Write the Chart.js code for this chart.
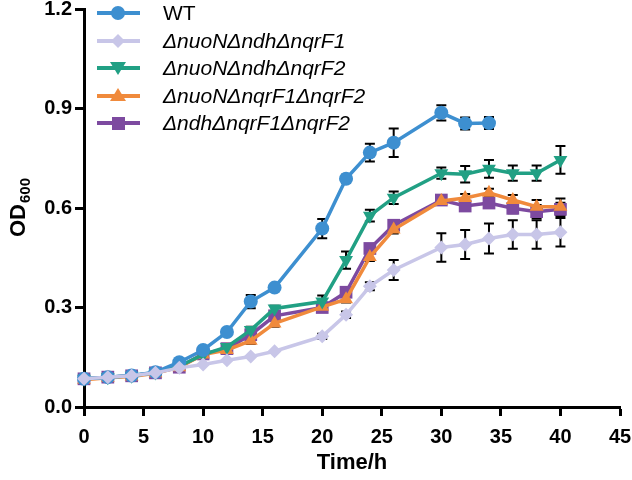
<!DOCTYPE html>
<html>
<head>
<meta charset="utf-8">
<script src="https://cdn.jsdelivr.net/npm/chart.js@4.4.1/dist/chart.umd.min.js"></script>
<style>
  html, body { margin: 0; padding: 0; background: #fff; }
  #wrap { position: relative; width: 632px; height: 480px; }
  #legend { position: absolute; left: 96px; top: 0; font-family: "Liberation Sans", Arial, sans-serif; font-size: 21px; color: #000; }
  .row { position: absolute; left: 0; height: 28px; white-space: nowrap; }
  .row svg { position: absolute; left: 0; top: 0; }
  .row span { position: absolute; left: 67px; top: 2px; }
</style>
</head>
<body>
<div id="wrap">
  <canvas id="growth" width="632" height="480"></canvas>
  <div id="legend"></div>
</div>
<script>
// 시간 (h)
const time = [0, 2, 4, 6, 8, 10, 12, 14, 16, 20, 22, 24, 26, 30, 32, 34, 36, 38, 40];
const xTicks = [0, 5, 10, 15, 20, 25, 30, 35, 40, 45];
const yTicks = [0, 0.3, 0.6, 0.9, 1.2];

// 균주 이름
const strainNames = ['WT', 'ΔnuoNΔndhΔnqrF1', 'ΔnuoNΔndhΔnqrF2', 'ΔnuoNΔnqrF1ΔnqrF2', 'ΔndhΔnqrF1ΔnqrF2'];

// OD600 평균값
const wtOD     = [0.085, 0.09, 0.095, 0.105, 0.135, 0.172, 0.226, 0.318, 0.36, 0.538, 0.688, 0.767, 0.797, 0.887, 0.855, 0.856, null, null, null];
const f1OD     = [0.085, 0.09, 0.094, 0.103, 0.118, 0.128, 0.141, 0.152, 0.168, 0.213, 0.278, 0.364, 0.413, 0.481, 0.49, 0.508, 0.52, 0.52, 0.527];
const f2OD     = [0.085, 0.09, 0.094, 0.104, 0.123, 0.158, 0.181, 0.232, 0.297, 0.318, 0.443, 0.577, 0.631, 0.705, 0.702, 0.718, 0.705, 0.705, 0.745];
const nuoOD    = [0.082, 0.088, 0.092, 0.102, 0.12, 0.158, 0.172, 0.2, 0.252, 0.302, 0.325, 0.452, 0.535, 0.621, 0.63, 0.646, 0.624, 0.604, 0.604];
const ndhOD    = [0.085, 0.09, 0.094, 0.103, 0.12, 0.16, 0.176, 0.218, 0.275, 0.3, 0.346, 0.478, 0.548, 0.624, 0.606, 0.615, 0.599, 0.589, 0.596];

// 표준편차 (error bar)
const wtErr    = [0, 0, 0, 0, 0.005, 0.006, 0.008, 0.02, 0.008, 0.029, 0.012, 0.027, 0.043, 0.023, 0.018, 0.018, 0, 0, 0];
const f1Err    = [0, 0, 0, 0, 0, 0, 0, 0, 0, 0.008, 0.01, 0.012, 0.03, 0.043, 0.044, 0.045, 0.043, 0.043, 0.043];
const f2Err    = [0, 0, 0, 0, 0, 0.005, 0.006, 0.01, 0.008, 0.018, 0.026, 0.018, 0.019, 0.017, 0.025, 0.027, 0.023, 0.023, 0.042];
const nuoErr   = [0, 0, 0, 0, 0, 0.005, 0.006, 0.01, 0.01, 0.01, 0.01, 0.012, 0.012, 0.01, 0.012, 0.012, 0.015, 0.02, 0.025];
const ndhErr   = [0, 0, 0, 0, 0, 0.005, 0.006, 0.01, 0.01, 0.012, 0.012, 0.012, 0.012, 0.01, 0.012, 0.012, 0.015, 0.02, 0.02];

const colors = ['#3d8fd0', '#c8c6e8', '#21a084', '#f08a3c', '#7d4aa0'];
const styles = ['circle', 'rectRot', 'triangle', 'triangle', 'rect'];
const rotations = [0, 0, 180, 0, 0];
const radii = [7, 7, 8, 8, 9];
const drawOrder = [1, 0, 2, 3, 4]; // 연보라가 맨 위

const seriesOD = [wtOD, f1OD, f2OD, nuoOD, ndhOD];
const seriesErr = [wtErr, f1Err, f2Err, nuoErr, ndhErr];

const FONT = '"Liberation Sans", Arial, sans-serif';

const datasets = strainNames.map(function(name, i) {
    return {
        label: name,
        data: time.map(function(t, k) { return { x: t, y: seriesOD[i][k] }; }),
        err: seriesErr[i],
        borderColor: colors[i],
        backgroundColor: colors[i],
        borderWidth: 3.5,
        pointStyle: styles[i],
        pointRotation: rotations[i],
        pointRadius: radii[i],
        pointBorderWidth: 0,
        tension: 0,
        order: drawOrder[i],
        clip: 12
    };
});

// error bar 그리기
const errorBars = {
    id: 'errorBars',
    beforeDatasetsDraw(chart) {
        const ctx = chart.ctx;
        const xs = chart.scales.x, ys = chart.scales.y;
        ctx.save();
        ctx.strokeStyle = '#000';
        ctx.lineWidth = 2;
        chart.data.datasets.forEach(function(ds) {
            ds.data.forEach(function(p, k) {
                const e = ds.err[k];
                if (p.y == null || !e) return;
                const px = xs.getPixelForValue(p.x);
                const top = ys.getPixelForValue(p.y + e);
                const bot = ys.getPixelForValue(p.y - e);
                ctx.beginPath();
                ctx.moveTo(px, top); ctx.lineTo(px, bot);
                ctx.moveTo(px - 5, top); ctx.lineTo(px + 5, top);
                ctx.moveTo(px - 5, bot); ctx.lineTo(px + 5, bot);
                ctx.stroke();
            });
        });
        ctx.restore();
    }
};

// y축 제목 OD600 (아래첨자)
const yTitle = {
    id: 'yTitle',
    afterDraw(chart) {
        const ctx = chart.ctx;
        const cy = (chart.chartArea.top + chart.chartArea.bottom) / 2;
        ctx.save();
        ctx.translate(25, cy);
        ctx.rotate(-Math.PI / 2);
        ctx.fillStyle = '#000';
        ctx.textBaseline = 'alphabetic';
        ctx.font = 'bold 22px ' + FONT;
        const w1 = ctx.measureText('OD').width;
        ctx.font = 'bold 15px ' + FONT;
        const w2 = ctx.measureText('600').width;
        const x0 = -(w1 + w2) / 2;
        ctx.font = 'bold 22px ' + FONT;
        ctx.fillText('OD', x0, 0);
        ctx.font = 'bold 15px ' + FONT;
        ctx.fillText('600', x0 + w1 + 1, 5);
        ctx.restore();
    }
};

const growthChart = new Chart(document.getElementById('growth'), {
    type: 'line',
    data: { datasets: datasets },
    options: {
        responsive: false,
        animation: false,
        devicePixelRatio: 1,
        layout: { padding: { top: 8, right: 12, left: 0, bottom: 0 } },
        plugins: { legend: { display: false }, tooltip: { enabled: false } },
        scales: {
            x: {
                type: 'linear',
                min: 0, max: 45,
                afterBuildTicks: function(s) { s.ticks = xTicks.map(function(v) { return { value: v }; }); },
                afterFit: function(s) { s.height = 73; s.paddingRight = 0; s.paddingLeft = 0; },
                border: { display: true, width: 3, color: '#000' },
                grid: { drawOnChartArea: false, drawTicks: true, tickLength: 9, tickWidth: 3, tickColor: '#000' },
                ticks: { color: '#000', padding: 9, maxRotation: 0, font: { family: FONT, size: 20, weight: 'bold' } },
                title: { display: true, text: 'Time/h', color: '#000', padding: { top: 10 }, font: { family: FONT, size: 22, weight: 'bold' } }
            },
            y: {
                min: 0, max: 1.2,
                afterBuildTicks: function(s) { s.ticks = yTicks.map(function(v) { return { value: v }; }); },
                afterFit: function(s) { s.width = 84; s.paddingTop = 0; s.paddingBottom = 0; },
                border: { display: true, width: 3, color: '#000' },
                grid: { drawOnChartArea: false, drawTicks: true, tickLength: 9, tickWidth: 3, tickColor: '#000' },
                ticks: { color: '#000', padding: 3, callback: function(v) { return v.toFixed(1); }, font: { family: FONT, size: 20, weight: 'bold' } }
            }
        }
    },
    plugins: [errorBars, yTitle]
});

// 범례 (HTML)
function markerSvg(i) {
    const c = colors[i];
    let m = '';
    if (i === 0) m = '<circle cx="22" cy="14" r="7" fill="' + c + '"/>';
    if (i === 1) m = '<polygon points="22,7 29,14 22,21 15,14" fill="' + c + '"/>';
    if (i === 2) m = '<polygon points="14,8 30,8 22,21" fill="' + c + '"/>';
    if (i === 3) m = '<polygon points="22,6 30,19 14,19" fill="' + c + '"/>';
    if (i === 4) m = '<rect x="16" y="8" width="13" height="13" fill="' + c + '"/>';
    return '<svg width="46" height="28"><line x1="1" y1="14" x2="44" y2="14" stroke="' + c + '" stroke-width="4"/>' + m + '</svg>';
}
const legendRows = [13, 41, 68, 96, 123];
let html = '';
strainNames.forEach(function(name, i) {
    const style = i === 0 ? 'normal' : 'italic';
    html += '<div class="row" style="top:' + (legendRows[i] - 14) + 'px">' + markerSvg(i) +
        '<span style="font-style:' + style + '">' + name + '</span></div>';
});
document.getElementById('legend').innerHTML = html;
</script>
</body>
</html>
